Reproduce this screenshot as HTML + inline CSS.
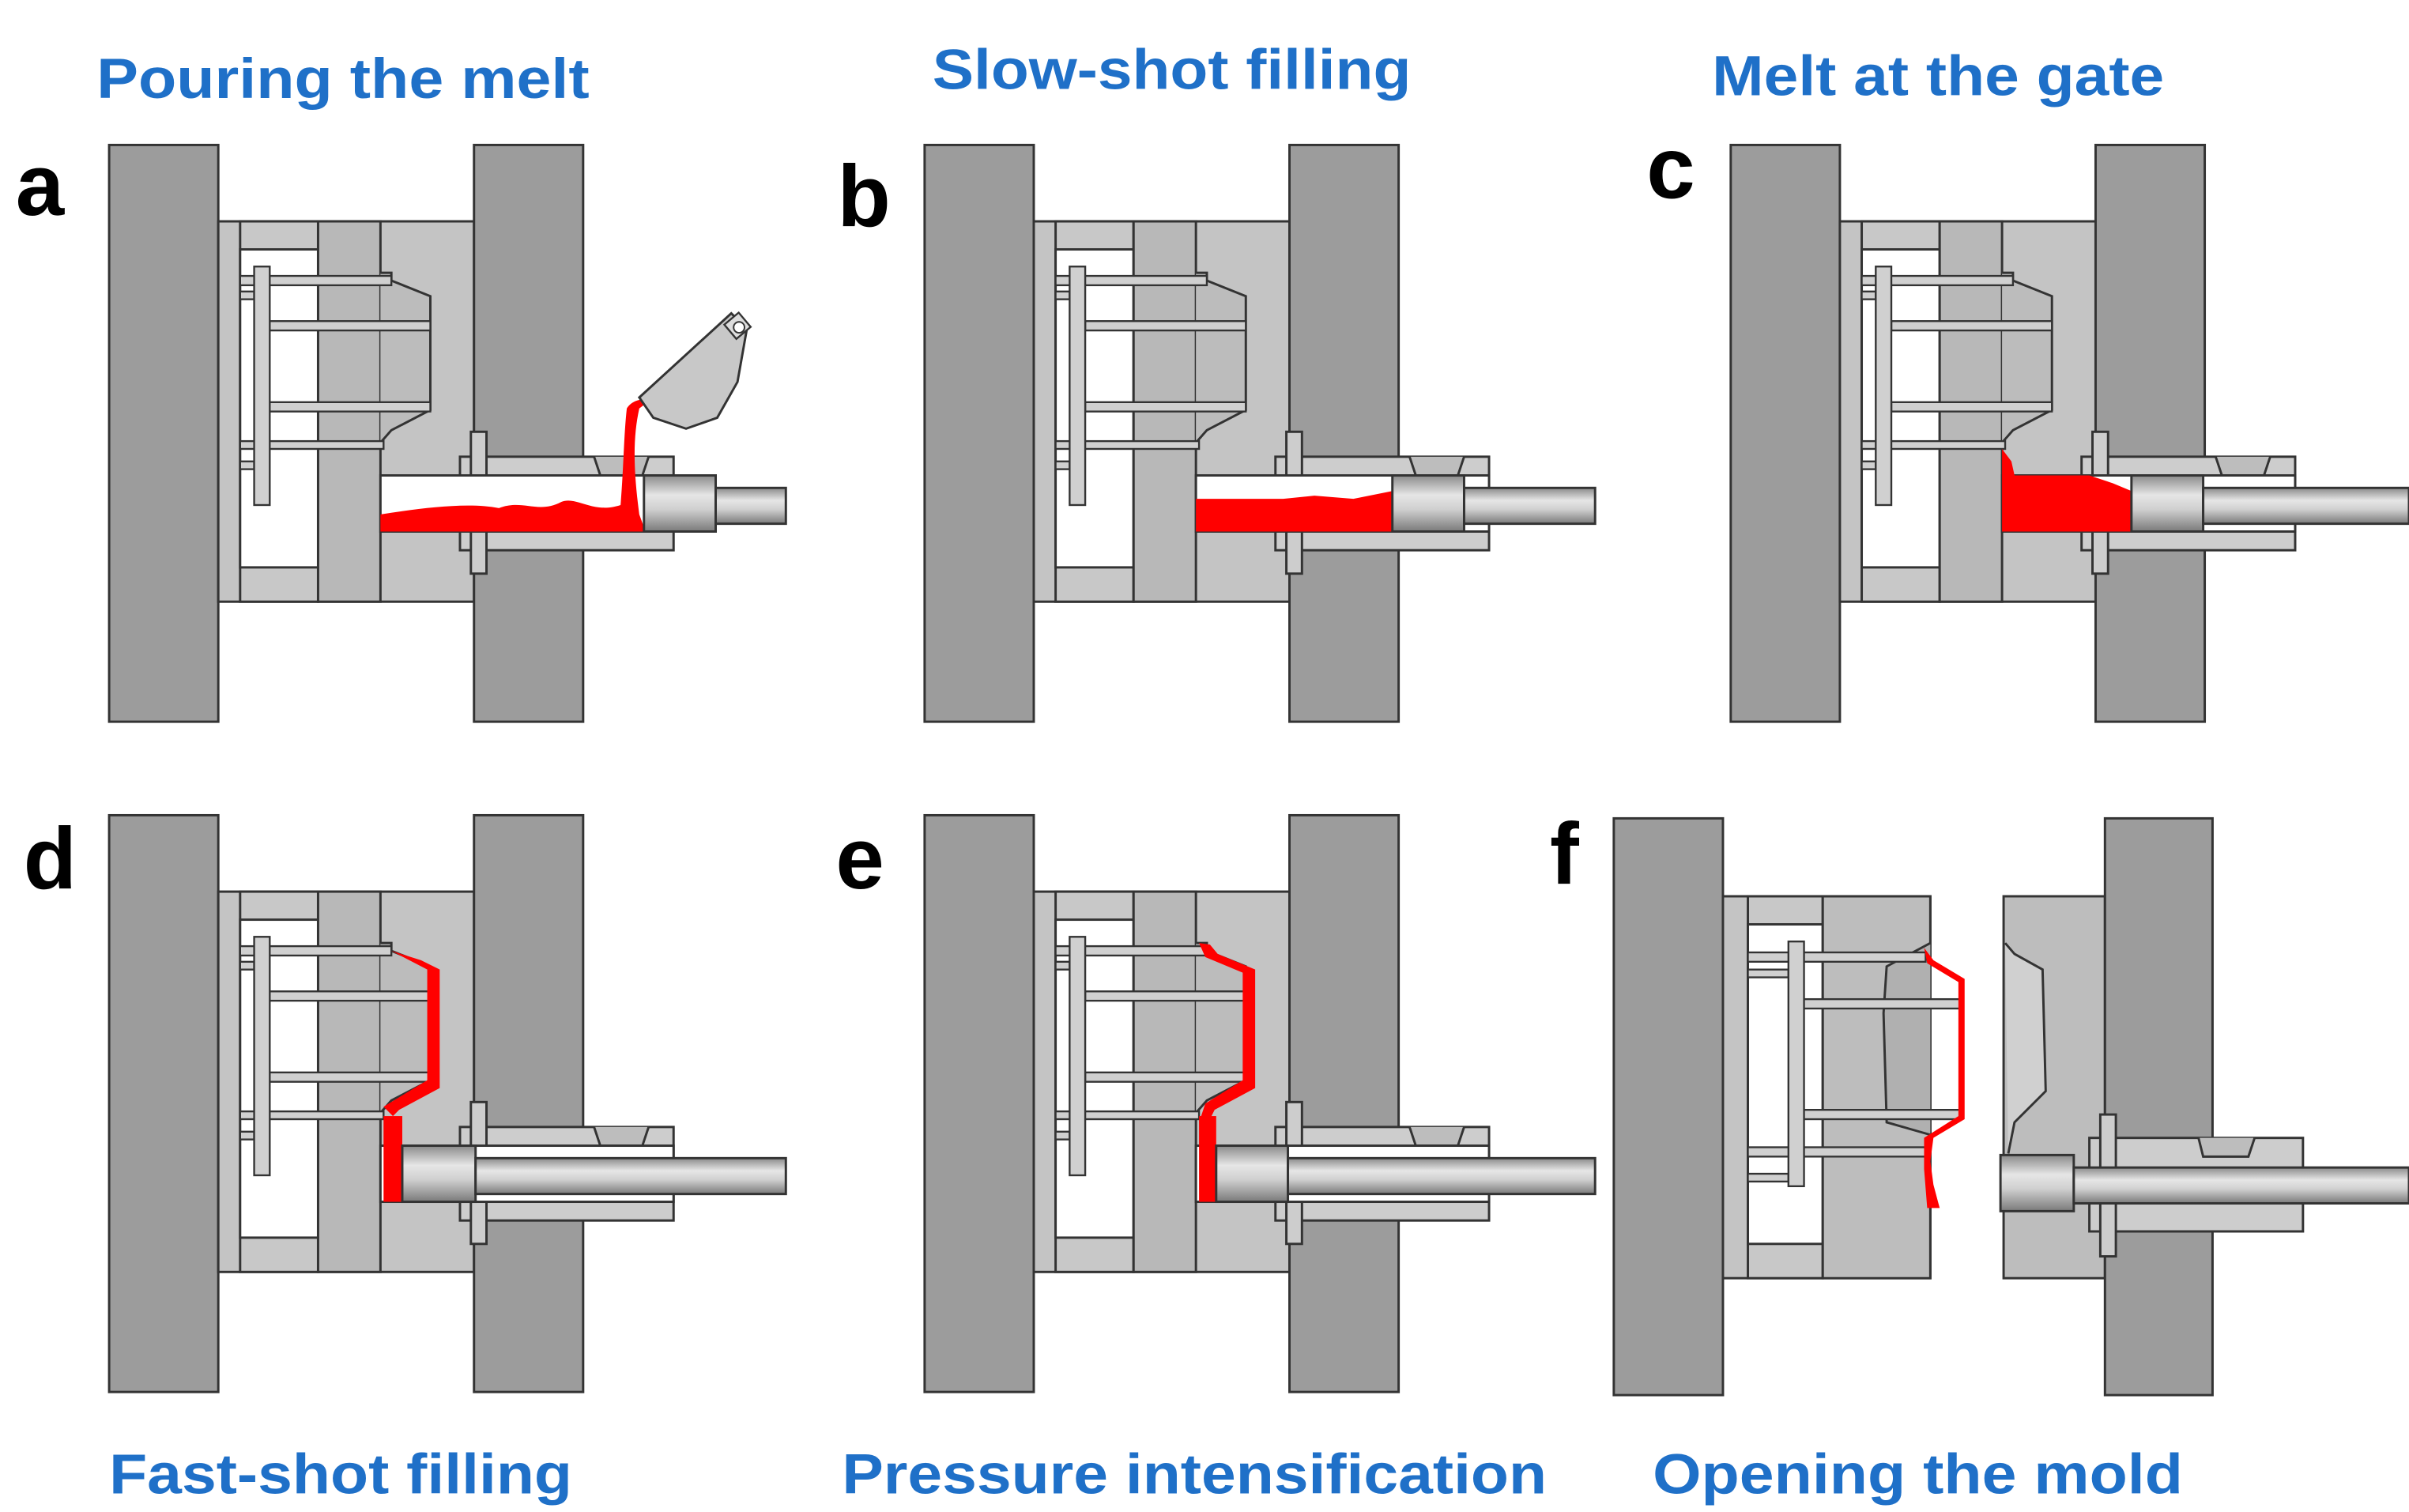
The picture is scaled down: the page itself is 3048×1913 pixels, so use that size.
<!DOCTYPE html>
<html><head><meta charset="utf-8"><style>
html,body{margin:0;padding:0;background:#fff;}
svg{display:block;}
</style></head><body>
<svg width="3048" height="1913" viewBox="0 0 1545 970" preserveAspectRatio="none" xmlns="http://www.w3.org/2000/svg">
<defs>
<linearGradient id="pl" x1="0" y1="0" x2="0" y2="1">
<stop offset="0" stop-color="#8a8a8a"/><stop offset="0.35" stop-color="#e6e6e6"/><stop offset="0.6" stop-color="#d0d0d0"/><stop offset="1" stop-color="#7a7a7a"/></linearGradient>
<g id="mold" stroke="#333" stroke-width="1.5">
<rect x="70" y="93" width="70" height="370" fill="#9c9c9c"/>
<rect x="140" y="142" width="164" height="244" fill="#c4c4c4"/>
<rect x="154" y="142" width="50" height="244" fill="#c8c8c8"/>
<rect x="154" y="160" width="50" height="204" fill="#fff"/>
<rect x="204" y="142" width="40" height="244" fill="#b8b8b8"/>
<path d="M244,175 L251,175 L251,180 L276,190 L276,263 L251,276 L244,284" fill="#bcbcbc"/>
<g fill="#d0d0d0" stroke-width="1.2">
<rect x="154" y="177" width="97" height="6"/>
<rect x="154" y="187" width="9" height="5"/>
<rect x="173" y="206" width="103" height="6"/>
<rect x="173" y="258" width="103" height="6"/>
<rect x="154" y="283" width="92" height="5"/>
<rect x="154" y="296" width="9" height="5"/>
<rect x="163" y="171" width="10" height="153"/>
</g>
<rect x="304" y="93" width="70" height="370" fill="#9c9c9c"/>
<rect x="295" y="293" width="137" height="60" fill="#cdcdcd"/>
<rect x="302" y="277" width="10" height="91" fill="#cdcdcd"/>
<path d="M381,293 L385,305 L412,305 L416,293" fill="#bdbdbd"/>
<rect x="244" y="305" width="188" height="36" fill="#fff"/>
</g>
</defs>

<g font-family="Liberation Sans, sans-serif" font-weight="bold" fill="#1f70c8" font-size="36">
<text x="62" y="63" textLength="316" lengthAdjust="spacingAndGlyphs">Pouring the melt</text>
<text x="598" y="57" textLength="307" lengthAdjust="spacingAndGlyphs">Slow-shot filling</text>
<text x="1098" y="61" textLength="290" lengthAdjust="spacingAndGlyphs">Melt at the gate</text>
<text x="70" y="958" textLength="297" lengthAdjust="spacingAndGlyphs">Fast-shot filling</text>
<text x="540" y="958" textLength="452" lengthAdjust="spacingAndGlyphs">Pressure intensification</text>
<text x="1060" y="958" textLength="340" lengthAdjust="spacingAndGlyphs">Opening the mold</text>
</g>
<g font-family="Liberation Sans, sans-serif" font-weight="bold" fill="#000" font-size="56">
<text x="10" y="138">a</text><text x="537" y="145">b</text><text x="1056" y="127">c</text>
<text x="15" y="570">d</text><text x="536" y="570">e</text><text x="994" y="567">f</text>
</g>

<!-- a -->
<use href="#mold"/>
<path d="M244,341 L244,330 C270,326 300,322 320,326 C335,320 345,330 360,322 C370,318 380,330 398,324 C400,300 400,280 402,262 C406,256 412,256 418,256 L410,262 C406,280 406,300 410,330 L414,341 Z" fill="#f00"/>
<path d="M410,255 L469,201 L479,211 L473,245 L460,268 L440,275 L419,268 Z" fill="#c8c8c8" stroke="#333" stroke-width="1.5"/>
<rect x="467" y="203" width="12" height="12" fill="#ddd" stroke="#333" stroke-width="1.2" transform="rotate(-40 473 209)"/>
<circle cx="474" cy="210" r="3.5" fill="#fff" stroke="#333"/>
<rect x="413" y="305" width="46" height="36" fill="url(#pl)" stroke="#333" stroke-width="1.5"/>
<rect x="459" y="313" width="45" height="23" fill="url(#pl)" stroke="#333" stroke-width="1.5"/>

<!-- b -->
<g transform="translate(523,0)">
<use href="#mold"/>
<path d="M244,341 L244,320 L300,320 L320,318 L345,320 L370,315 L370,341 Z" fill="#f00"/>
<rect x="370" y="305" width="46" height="36" fill="url(#pl)" stroke="#333" stroke-width="1.5"/>
<rect x="416" y="313" width="84" height="23" fill="url(#pl)" stroke="#333" stroke-width="1.5"/>
</g>

<!-- c -->
<g transform="translate(1040,0)">
<use href="#mold"/>
<path d="M244,341 L244,288 L250,296 L252,305 L300,305 L315,310 L327,315 L327,341 Z" fill="#f00"/>
<rect x="327" y="305" width="46" height="36" fill="url(#pl)" stroke="#333" stroke-width="1.5"/>
<rect x="373" y="313" width="132" height="23" fill="url(#pl)" stroke="#333" stroke-width="1.5"/>
</g>

<!-- d -->
<g transform="translate(0,430)">
<use href="#mold"/>
<path d="M251,180 L270,186 L282,192 L282,268 L256,282 L252,286 L246,280 L274,263 L274,192 Z" fill="#f00"/>
<rect x="246" y="286" width="12" height="55" fill="#f00"/>
<rect x="258" y="305" width="47" height="36" fill="url(#pl)" stroke="#333" stroke-width="1.5"/>
<rect x="305" y="313" width="199" height="23" fill="url(#pl)" stroke="#333" stroke-width="1.5"/>
</g>

<!-- e -->
<g transform="translate(523,430)">
<use href="#mold"/>
<path d="M246,175 L253,176 L258,182 L282,192 L282,268 L256,282 L252,290 L246,290 L250,278 L274,263 L274,194 L250,184 Z" fill="#f00"/>
<rect x="246" y="286" width="11" height="55" fill="#f00"/>
<rect x="257" y="305" width="46" height="36" fill="url(#pl)" stroke="#333" stroke-width="1.5"/>
<rect x="303" y="313" width="197" height="23" fill="url(#pl)" stroke="#333" stroke-width="1.5"/>
</g>

<!-- f -->
<g stroke="#333" stroke-width="1.5">
<rect x="1035" y="525" width="70" height="370" fill="#9c9c9c"/>
<rect x="1105" y="575" width="133" height="245" fill="#c4c4c4"/>
<rect x="1121" y="575" width="48" height="245" fill="#c8c8c8"/>
<rect x="1121" y="593" width="48" height="205" fill="#fff"/>
<path d="M1169,575 L1238,575 L1238,820 L1169,820 Z" fill="#bdbdbd"/>
<path d="M1238,605 L1210,620 L1208,650 L1210,720 L1238,728" fill="#b0b0b0"/>
<g fill="#d0d0d0" stroke-width="1.2">
<rect x="1121" y="611" width="114" height="6"/>
<rect x="1121" y="622" width="26" height="5"/>
<rect x="1148" y="641" width="110" height="6"/>
<rect x="1148" y="712" width="110" height="6"/>
<rect x="1121" y="736" width="114" height="6"/>
<rect x="1121" y="753" width="26" height="5"/>
<rect x="1147" y="604" width="10" height="157"/>
</g>
<path d="M1234,608 L1240,616 L1260,628 L1260,718 L1240,730 L1238,745 L1240,760 L1244,775 L1236,775 L1234,750 L1234,730 L1256,716 L1256,630 L1236,618 Z" fill="#f00" stroke="none"/>
<rect x="1285" y="575" width="65" height="245" fill="#bdbdbd"/>
<path d="M1286,605 L1292,612 L1310,622 L1312,700 L1292,720 L1288,740" fill="#d0d0d0"/>
<rect x="1350" y="525" width="69" height="370" fill="#9c9c9c"/>
<rect x="1340" y="730" width="137" height="60" fill="#cdcdcd"/>
<rect x="1347" y="715" width="10" height="91" fill="#cdcdcd"/>
<path d="M1410,730 L1413,742 L1442,742 L1446,730" fill="#bdbdbd"/>
<rect x="1283" y="741" width="47" height="36" fill="url(#pl)"/>
<rect x="1330" y="749" width="215" height="23" fill="url(#pl)"/>
</g>
</svg>
</body></html>
